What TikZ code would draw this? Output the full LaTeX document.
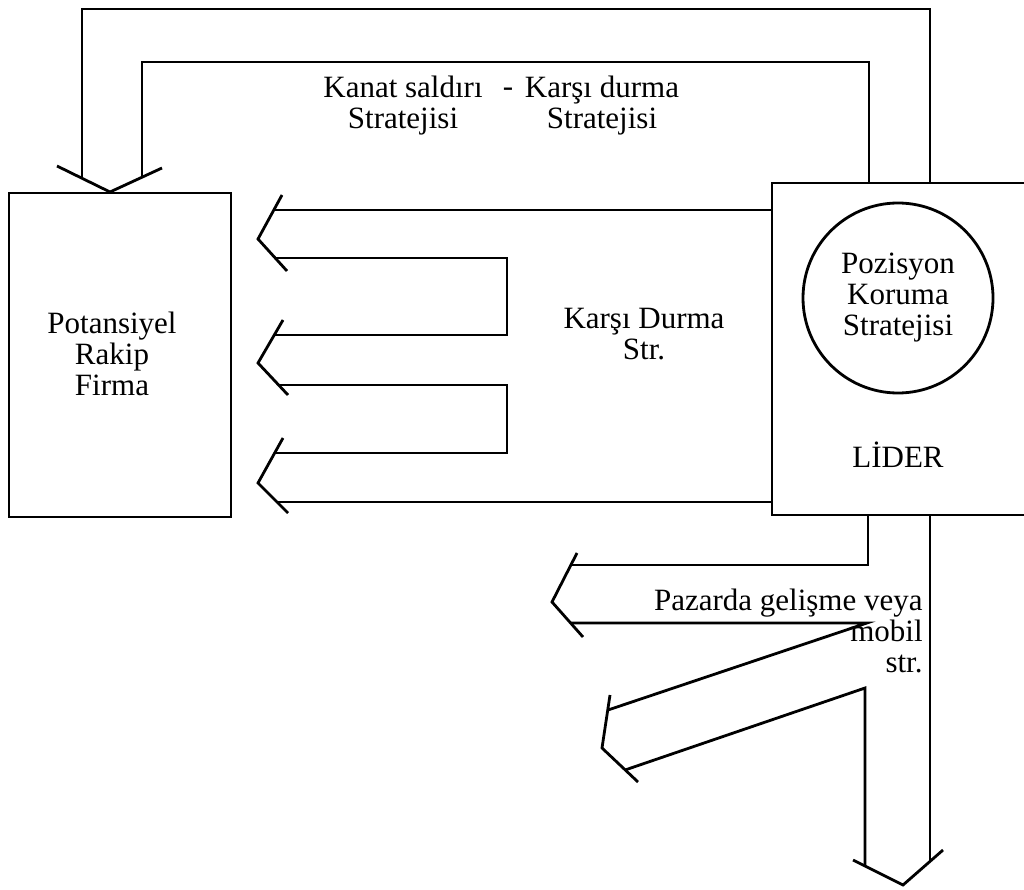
\documentclass[tikz,border=0pt]{standalone}
\usepackage{fontspec}
\setmainfont{Liberation Serif}
\begin{document}
\begin{tikzpicture}[x=1pt,y=-1pt,line width=2.8pt]
            \tikzstyle{every node}+=[inner sep=0pt,align=center,font=\fontsize{31}{31}\selectfont]
            \useasboundingbox (0,0) rectangle (1024,890);
            \clip (0,0) rectangle (1024,890);
            % the two firms
            \node [draw,minimum width=222pt,minimum height=324pt] (rakip) at (120,355) {};
            \node (rakipad) at (112,354) {Potansiyel\\Rakip\\Firma};
            \node [draw,minimum width=270pt,minimum height=332pt] (lider) at (907,349) {};
            \node [draw,circle,minimum size=190pt] (koruma) at (898,298) {Pozisyon\\Koruma\\Stratejisi};
            \node (liderad) at (898,455) {LİDER};
            % flank attack and counter strategy, over the top
            \draw [black] (930,183) -- (930,9) -- (82,9) -- (82,178);
            \draw [black] (869,183) -- (869,62) -- (142,62) -- (142,177);
            \draw [black] (57,166) -- (110,192) -- (162,168);
            \node (kanat) at (403,106) {Kanat saldırı\\Stratejisi};
            \node (tire) at (508,92) {-};
            \node (karsi) at (602,106) {Karşı durma\\Stratejisi};
            % counter strategy, three heads
            \draw [black] (772,210) -- (275,210);
            \draw [black] (282,195) -- (258,239) -- (287,271);
            \draw [black] (276,258) -| (507,335) -- (275,335);
            \draw [black] (283,320) -- (258,363) -- (288,395);
            \draw [black] (278,385) -| (507,453) -- (275,453);
            \draw [black] (283,438) -- (258,483) -- (288,513);
            \draw [black] (277,502) -- (772,502);
            \node (karsidurma) at (644,334) {Karşı Durma\\Str.};
            % market growth or mobile strategy
            \draw [black] (868,515) -- (868,565) -- (571,565);
            \draw [black] (577,553) -- (552,602) -- (583,637);
            \draw [black] (571,623) -- (867,623) -- (608,710);
            \draw [black] (610,695) -- (602,748) -- (638,782);
            \draw [black] (625,770) -- (865,688) -- (865,866);
            \draw [black] (930,515) -- (930,861);
            \draw [black] (853,860) -- (903,885) -- (943,850);
            \node [anchor=north east,align=right] (pazarda) at (924,588) {Pazarda gelişme veya\\mobil\\str.};
\end{tikzpicture}
\end{document}
